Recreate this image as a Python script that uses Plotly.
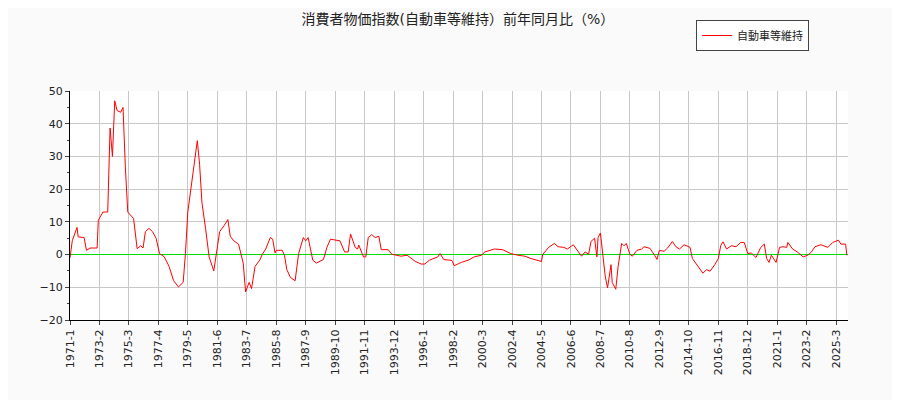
"""消費者物価指数(自動車等維持) 前年同月比."""

import pandas as pd
import plotly.graph_objects

# month index from 1971-1, value (%)
month_index = [
    0, 2, 6, 7, 12, 14, 17, 23, 24, 28, 32, 33, 34, 36, 37, 38, 40, 43, 45, 46,
    47, 49, 54, 57, 60, 62, 64, 67, 70, 73, 76, 80, 84, 88, 92, 96, 98, 100,
    103, 106, 108, 110, 112, 115, 118, 122, 125, 127, 131, 134, 136, 139, 143,
    147, 149, 152, 154, 157, 161, 163, 166, 170, 172, 174, 175, 180, 182, 184,
    187, 191, 194, 198, 200, 202, 206, 209, 215, 218, 221, 229, 233, 236, 238,
    242, 244, 245, 249, 251, 253, 256, 259, 262, 264, 270, 273, 278, 281, 286,
    293, 298, 301, 305, 312, 314, 317, 324, 326, 332, 338, 343, 349, 352, 356,
    360, 367, 374, 380, 386, 391, 396, 400, 401, 406, 411, 414, 419, 422, 427,
    432, 434, 437, 440, 442, 445, 447, 448, 450, 452, 454, 456, 459, 460, 463,
    465, 468, 470, 472, 475, 477, 481, 485, 487, 492, 496, 498, 500, 504, 507,
    511, 514, 517, 521, 524, 526, 528, 532, 537, 540, 543, 547, 550, 552, 554,
    557, 561, 565, 569, 572, 575, 578, 582, 586, 589, 591, 593, 595, 599, 602,
    605, 608, 609, 613, 617, 622, 626, 629, 632, 637, 643, 647, 652, 654, 658,
    659,
]
yoy_values = [
    -1.0, 4.2, 8.3, 5.4, 5.2, 1.3, 2.0, 2.0, 10.5, 13.0, 13.0, 29.5, 38.7, 30.0,
    39.0, 47.0, 44.0, 43.5, 45.0, 32.0, 26.5, 13.0, 11.0, 1.8, 2.7, 2.0, 7.0,
    8.0, 7.0, 5.0, 0.3, -0.7, -3.6, -8.0, -9.9, -8.5, 0.3, 13.0, 21.7, 30.4,
    34.8, 27.5, 15.8, 8.0, -0.7, -5.0, 2.2, 7.0, 9.0, 10.7, 5.6, 4.2, 3.2,
    -2.6, -11.4, -8.5, -10.4, -3.6, -1.7, 0.0, 1.7, 5.2, 4.7, 0.5, 1.3, 1.3,
    -0.2, -4.6, -7.0, -8.0, 0.3, 5.2, 4.2, 5.2, -1.7, -2.6, -1.5, 2.2, 4.7,
    4.2, 0.8, 0.8, 6.3, 2.2, 1.7, 2.9, -0.7, -0.7, 5.2, 6.1, 5.2, 5.6, 1.5,
    1.5, 0.1, -0.4, -0.5, -0.2, -2.1, -2.9, -2.9, -1.7, -0.7, 0.3, -1.5, -1.8,
    -3.4, -2.4, -1.7, -0.7, -0.2, 0.8, 1.3, 1.7, 1.5, 0.3, -0.2, -0.5, -1.2,
    -1.7, -2.1, 0.0, 2.2, 3.4, 2.4, 2.2, 1.7, 3.0, 0.3, -0.5, 0.8, 0.1, 4.0,
    5.0, -0.7, 5.2, 6.6, 0.3, -6.5, -10.2, -3.1, -8.5, -10.6, -3.6, 3.4, 2.7,
    3.4, 0.1, -0.5, 1.3, 1.7, 2.4, 1.9, -0.2, -1.5, 1.3, 1.0, 2.0, 4.0, 2.4,
    1.7, 3.0, 2.4, 2.2, -1.2, -3.1, -5.7, -4.6, -5.1, -3.1, -1.2, 2.7, 3.9,
    1.7, 2.7, 2.4, 3.7, 3.7, 0.3, 0.5, -0.9, 2.2, 3.2, -1.2, -2.4, -0.2, -2.4,
    2.2, 2.4, 2.2, 3.7, 1.7, 0.8, -0.7, -0.2, 0.8, 2.4, 3.0, 2.2, 3.7, 4.4,
    3.2, 3.2, -0.2,
]
series_name = "自動車等維持"
chart_title = "消費者物価指数(自動車等維持）前年同月比（%）"

start = pd.Timestamp("1971-01-01")
dates = [start + pd.DateOffset(months=m) for m in month_index]
tick_dates = [start + pd.DateOffset(months=m) for m in range(0, 660, 25)]
tick_text = [f"{d.year}-{d.month}" for d in tick_dates]

font = "DejaVu Sans, Noto Sans CJK JP"

figure = plotly.graph_objects.Figure()
figure.add_trace(
    plotly.graph_objects.Scatter(
        x=dates,
        y=yoy_values,
        name=series_name,
        mode="lines",
        line={"color": "#ff0000", "width": 1},
    )
)

figure.update_layout(
    width=900,
    height=400,
    paper_bgcolor="#fafafa",
    plot_bgcolor="#ffffff",
    font={"family": font, "size": 11, "color": "#222222"},
    title={"text": chart_title, "x": 0.5, "y": 0.985, "yanchor": "top",
           "xanchor": "center", "font": {"size": 14}},
    margin={"l": 62, "r": 60, "t": 72, "b": 88},
    showlegend=True,
    legend={
        "x": 0.95, "y": 1.31, "xanchor": "right", "yanchor": "top",
        "bordercolor": "#444444", "borderwidth": 1, "bgcolor": "#ffffff",
        "font": {"size": 11},
    },
    xaxis={
        "range": [start, start + pd.DateOffset(months=660)],
        "tickvals": tick_dates,
        "ticktext": tick_text,
        "tickangle": -90,
        "ticks": "outside",
        "ticklen": 4,
        "showgrid": True,
        "gridcolor": "#c8c8c8",
        "showline": True,
        "linecolor": "#000000",
        "zeroline": False,
    },
    yaxis={
        "range": [-20, 50],
        "dtick": 10,
        "ticks": "outside",
        "ticklen": 4,
        "minor": {"dtick": 5, "ticks": "outside", "ticklen": 2, "showgrid": False},
        "showgrid": True,
        "gridcolor": "#c8c8c8",
        "showline": True,
        "linecolor": "#000000",
        "zeroline": True,
        "zerolinecolor": "#00dd00",
        "zerolinewidth": 1,
    },
)

figure.write_html("out.html")
